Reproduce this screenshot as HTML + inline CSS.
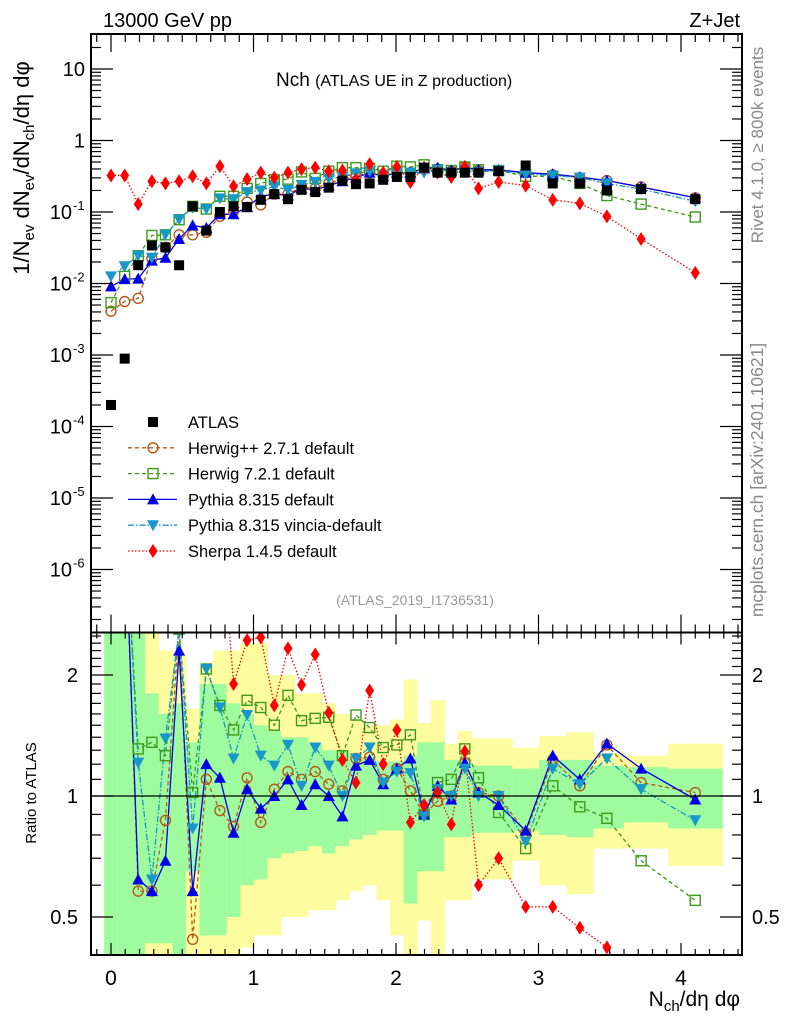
<!DOCTYPE html>
<html><head><meta charset="utf-8">
<style>
html,body{margin:0;padding:0;background:#fff;}
svg{display:block;font-family:"Liberation Sans",Arial,sans-serif;}
</style></head>
<body>
<svg id="chart" width="786" height="1024" viewBox="0 0 786 1024" xmlns="http://www.w3.org/2000/svg">
<defs>
<clipPath id="clipMain"><rect x="91" y="34" width="651" height="598"/></clipPath>
<clipPath id="clipRatio"><rect x="91" y="633" width="651" height="322"/></clipPath>
</defs>
<g id="bands" clip-path="url(#clipRatio)"></g>
<g id="ratioSeries" clip-path="url(#clipRatio)"></g>
<g id="mainSeries" clip-path="url(#clipMain)"></g>
<g id="axes"></g>
<text x="103" y="27" font-size="20">13000 GeV pp</text>
<text x="740" y="27" font-size="20" text-anchor="end">Z+Jet</text>
<text x="276" y="86" font-size="19">Nch <tspan font-size="16">(ATLAS UE in Z production)</tspan></text>
<text x="415" y="605" font-size="14" fill="#999" text-anchor="middle">(ATLAS_2019_I1736531)</text>
<text transform="translate(763,145) rotate(-90)" font-size="17" fill="#888" text-anchor="middle">Rivet 4.1.0, ≥ 800k events</text>
<text transform="translate(763,480) rotate(-90)" font-size="17.5" fill="#888" text-anchor="middle">mcplots.cern.ch [arXiv:2401.10621]</text>
<text transform="translate(29,168) rotate(-90)" font-size="22" text-anchor="middle">1/N<tspan font-size="15" dy="5">ev</tspan><tspan dy="-5"> dN</tspan><tspan font-size="15" dy="5">ev</tspan><tspan dy="-5">/dN</tspan><tspan font-size="15" dy="5">ch</tspan><tspan dy="-5">/dη dφ</tspan></text>
<text transform="translate(36,793) rotate(-90)" font-size="15" text-anchor="middle">Ratio to ATLAS</text>
<text x="740" y="1006" font-size="21" text-anchor="end">N<tspan font-size="15" dy="5">ch</tspan><tspan dy="-5">/dη dφ</tspan></text>
<g id="legend"></g>
</svg>
<script>
// ---- data ----
const xs = [0,0.096,0.191,0.287,0.382,0.478,0.573,0.669,0.764,0.86,0.955,1.051,1.146,1.242,1.337,1.433,1.528,1.624,1.719,1.815,1.91,2.006,2.101,2.197,2.292,2.388,2.483,2.579,2.72,2.91,3.10,3.29,3.48,3.72,4.10];
const atlas = [2.0e-4,8.9e-4,0.018,0.034,0.032,0.018,0.12,0.055,0.10,0.12,0.117,0.148,0.178,0.151,0.204,0.19,0.219,0.275,0.245,0.251,0.282,0.309,0.309,0.417,0.355,0.355,0.355,0.355,0.372,0.447,0.251,0.251,0.2,0.209,0.151];
const herwig27 = [0.0041,0.0056,0.0062,0.0224,0.032,0.048,0.048,0.052,0.087,0.102,0.138,0.126,0.178,0.178,0.224,0.214,0.251,0.282,0.316,0.355,0.316,0.355,0.355,0.398,0.398,0.372,0.427,0.38,0.38,0.355,0.331,0.302,0.275,0.224,0.158];
const herwig72 = [0.0054,0.0126,0.0245,0.047,0.048,0.078,0.12,0.11,0.166,0.166,0.214,0.251,0.282,0.288,0.363,0.295,0.372,0.417,0.417,0.407,0.372,0.437,0.427,0.457,0.389,0.38,0.427,0.389,0.38,0.316,0.316,0.251,0.17,0.129,0.085];
const pythia = [0.0091,0.0115,0.0117,0.0209,0.0229,0.042,0.065,0.060,0.093,0.093,0.117,0.166,0.178,0.17,0.214,0.204,0.234,0.269,0.302,0.355,0.316,0.355,0.355,0.407,0.417,0.38,0.417,0.389,0.389,0.355,0.339,0.309,0.275,0.224,0.158];
const vincia = [0.0126,0.0174,0.0245,0.0229,0.048,0.079,0.115,0.11,0.155,0.151,0.19,0.2,0.229,0.204,0.24,0.263,0.295,0.309,0.347,0.372,0.331,0.355,0.355,0.355,0.389,0.355,0.389,0.363,0.38,0.339,0.324,0.302,0.251,0.209,0.141];
const sherpa = [0.324,0.324,0.129,0.269,0.251,0.269,0.316,0.251,0.437,0.229,0.288,0.355,0.302,0.355,0.398,0.417,0.372,0.38,0.282,0.468,0.355,0.427,0.263,0.417,0.355,0.309,0.427,0.214,0.263,0.234,0.148,0.132,0.087,0.042,0.0141];
const ratioHerwig27 = [5,5,0.58,0.58,0.87,2.6,0.44,1.1,0.92,0.84,1.11,0.86,1.04,1.15,1.1,1.15,1.07,1.03,1.24,1.25,1.1,1.17,1.03,0.9,0.97,1.0,1.21,1.02,1.0,0.81,1.23,1.06,1.34,1.08,1.02];
const ratioHerwig72 = [5,5,1.31,1.36,1.26,2.6,1.02,2.07,1.68,1.46,1.73,1.66,1.5,1.78,1.54,1.56,1.57,1.26,1.59,1.48,1.32,1.34,1.42,0.9,1.08,1.1,1.31,1.11,0.91,0.74,1.06,0.94,0.88,0.69,0.55];
const ratioPythia = [5,5,0.62,0.58,0.69,2.3,0.58,1.2,1.11,0.81,1.04,0.93,1.0,1.1,0.95,1.07,1.0,0.89,1.19,1.23,1.07,1.17,1.24,0.9,1.06,0.98,1.21,1.02,0.95,0.82,1.26,1.1,1.35,1.17,0.98];
const ratioVincia = [5,5,1.21,0.62,1.39,2.6,0.83,2.07,1.66,1.24,1.59,1.26,1.19,1.34,1.06,1.32,1.19,1.0,1.24,1.32,1.08,1.15,1.14,0.89,1.04,1.0,1.17,1.0,1.0,0.77,1.17,1.07,1.24,1.04,0.87];
const ratioSherpa = [5,5,5,5,5,5,5,5,5,1.9,2.44,2.48,1.68,2.33,1.89,2.25,1.61,1.23,1.08,1.83,1.2,1.46,0.86,0.95,1.02,0.85,1.29,0.6,0.70,0.53,0.53,0.47,0.42,0.3,0.3];
const statHi = [3,3,3,1.8,1.6,1.7,1.36,1.9,1.9,1.7,1.6,1.5,1.45,1.4,1.4,1.35,1.3,1.3,1.25,1.25,1.22,1.22,1.26,1.36,1.36,1.23,1.23,1.19,1.19,1.17,1.23,1.23,1.19,1.18,1.17];
const statLo = [0.3,0.3,0.3,0.43,0.43,0.4,0.65,0.45,0.45,0.5,0.6,0.62,0.7,0.72,0.73,0.75,0.72,0.75,0.78,0.8,0.82,0.82,0.54,0.65,0.65,0.79,0.79,0.81,0.81,0.82,0.8,0.79,0.83,0.86,0.83];
const totHi = [3,3,3,3,2.3,2.25,1.65,2.1,2.3,2.3,2.4,2.4,2.0,2.0,1.8,1.8,1.7,1.6,1.55,1.5,1.5,1.55,1.95,1.52,1.73,1.35,1.45,1.39,1.39,1.32,1.41,1.44,1.28,1.26,1.35];
const totLo = [0.3,0.3,0.3,0.3,0.38,0.3,0.35,0.4,0.4,0.4,0.42,0.45,0.45,0.5,0.5,0.52,0.52,0.55,0.58,0.6,0.55,0.45,0.3,0.49,0.3,0.55,0.55,0.62,0.62,0.69,0.6,0.57,0.74,0.74,0.67];
const xTicks = [0,1,2,3,4];
const mainTickExps = [1,0,-1,-2,-3,-4,-5,-6];
const ratioTicks = [0.5,1,2];

// ---- scales ----
const NS = 'http://www.w3.org/2000/svg';
const L = 91, R = 742, TOP = 34, MID = 632.5, BOT = 955;
const xPx = v => 111 + v * 142.5;
const yMain = v => 140.5 - Math.log10(v) * 71.5;
const yRatio = v => 796 - Math.log2(v) * 121;
function mk(tag, attrs, parent) {
  const e = document.createElementNS(NS, tag);
  for (const k in attrs) e.setAttribute(k, attrs[k]);
  parent.appendChild(e);
  return e;
}
const gBands = document.getElementById('bands');
const gRatio = document.getElementById('ratioSeries');
const gMain = document.getElementById('mainSeries');
const gAxes = document.getElementById('axes');
const gLeg = document.getElementById('legend');

const edges = [];
for (let i = 0; i < xs.length; i++) {
  const lo = i === 0 ? xs[0] - (xs[1] - xs[0]) / 2 : (xs[i - 1] + xs[i]) / 2;
  edges.push(lo);
}
edges.push(xs[xs.length - 1] + (xs[xs.length - 1] - edges[edges.length - 1]));

for (let i = 0; i < xs.length; i++) {
  const x0 = xPx(edges[i]), x1 = xPx(edges[i + 1]);
  const ry = mk('rect', {x: x0, y: yRatio(totHi[i]), width: x1 - x0 + 0.5, height: yRatio(totLo[i]) - yRatio(totHi[i]), fill: '#fdfc9e'}, gBands);
  
  
  const rg = mk('rect', {x: x0, y: yRatio(statHi[i]), width: x1 - x0 + 0.5, height: yRatio(statLo[i]) - yRatio(statHi[i]), fill: '#9efb9e'}, gBands);
  
  
}
const unity = mk('line', {x1: L, x2: R, y1: yRatio(1), y2: yRatio(1), stroke: '#000', 'stroke-width': 1.3}, gAxes);



function marker(type, cx, cy, color, parent) {
  let e;
  if (type === 'square') e = mk('rect', {x: cx - 5, y: cy - 5, width: 10, height: 10, fill: '#000'}, parent);
  else if (type === 'circle') e = mk('circle', {cx: cx, cy: cy, r: 5, fill: 'none', stroke: color, 'stroke-width': 1.4}, parent);
  else if (type === 'osquare') e = mk('rect', {x: cx - 5, y: cy - 5, width: 10, height: 10, fill: 'none', stroke: color, 'stroke-width': 1.4}, parent);
  else if (type === 'tri') e = mk('polygon', {points: `${cx},${cy - 6} ${cx - 6},${cy + 5} ${cx + 6},${cy + 5}`, fill: color}, parent);
  else if (type === 'itri') e = mk('polygon', {points: `${cx},${cy + 6} ${cx - 6},${cy - 5} ${cx + 6},${cy - 5}`, fill: color}, parent);
  else if (type === 'diamond') e = mk('polygon', {points: `${cx},${cy - 7} ${cx - 4.5},${cy} ${cx},${cy + 7} ${cx + 4.5},${cy}`, fill: color}, parent);
  return e;
}
const series = [
  {name: 'herwig-2-7-1', main: herwig27, ratio: ratioHerwig27, color: '#b35a1a', dash: '4,3', m: 'circle', label: 'Herwig++ 2.7.1 default'},
  {name: 'herwig-7-2-1', main: herwig72, ratio: ratioHerwig72, color: '#3f9a1c', dash: '4,3', m: 'osquare', label: 'Herwig 7.2.1 default'},
  {name: 'pythia-8-315', main: pythia, ratio: ratioPythia, color: '#0000e6', dash: '', m: 'tri', label: 'Pythia 8.315 default'},
  {name: 'pythia-vincia', main: vincia, ratio: ratioVincia, color: '#1898c8', dash: '6,2,1.5,2', m: 'itri', label: 'Pythia 8.315 vincia-default'},
  {name: 'sherpa-1-4-5', main: sherpa, ratio: ratioSherpa, color: '#ff0000', dash: '1.5,2', m: 'diamond', label: 'Sherpa 1.4.5 default'}
];
series.forEach(s => {
  const pm = xs.map((x, i) => `${xPx(x).toFixed(1)},${yMain(s.main[i]).toFixed(1)}`).join(' ');
  const lm = mk('polyline', {points: pm, fill: 'none', stroke: s.color, 'stroke-width': 1.3, 'stroke-dasharray': s.dash}, gMain);
  
  
  const pr = xs.map((x, i) => `${xPx(x).toFixed(1)},${yRatio(s.ratio[i]).toFixed(1)}`).join(' ');
  const lr = mk('polyline', {points: pr, fill: 'none', stroke: s.color, 'stroke-width': 1.3, 'stroke-dasharray': s.dash}, gRatio);
  
  
});
series.forEach(s => {
  xs.forEach((x, i) => {
    const a = marker(s.m, xPx(x), yMain(s.main[i]), s.color, gMain);
    
    
    const b = marker(s.m, xPx(x), yRatio(s.ratio[i]), s.color, gRatio);
    
    
  });
});
xs.forEach((x, i) => {
  const a = marker('square', xPx(x), yMain(atlas[i]), '#000', gMain);
  
  
});

const fr = mk('rect', {x: L, y: TOP, width: R - L, height: BOT - TOP, fill: 'none', stroke: '#000', 'stroke-width': 2}, gAxes);


const div = mk('line', {x1: L, x2: R, y1: MID, y2: MID, stroke: '#000', 'stroke-width': 2}, gAxes);



function tick(x1, y1, x2, y2) {
  const t = mk('line', {x1, y1, x2, y2, stroke: '#000', 'stroke-width': 1.2}, gAxes);
  
  
}
function label(txt, x, y, anchor, size, name) {
  const t = mk('text', {x, y, 'text-anchor': anchor, 'font-size': size}, gAxes);
  t.textContent = txt;
  
  
  return t;
}
for (let k = -1; k <= 44; k++) {
  const v = k / 10, px = xPx(v);
  if (px < L + 1 || px > R - 1) continue;
  const major = k % 10 === 0;
  const len = major ? 18 : 8;
  tick(px, TOP, px, TOP + len);
  tick(px, MID, px, MID - len);
  tick(px, MID, px, MID + (major ? 12 : 6));
  tick(px, BOT, px, BOT - (major ? 12 : 6));
}
xTicks.forEach(v => label(String(v), xPx(v), 985, 'middle', 21, 'x-tick-label'));
for (let e = -7; e <= 1; e++) {
  for (let m = 1; m <= 9; m++) {
    const v = m * Math.pow(10, e), py = yMain(v);
    if (py < TOP + 1 || py > MID - 1) continue;
    const len = m === 1 ? 22 : 10;
    tick(L, py, L + len, py);
    tick(R, py, R - len, py);
  }
}
mainTickExps.forEach(e => {
  const py = yMain(Math.pow(10, e)) + 7;
  if (e === 1) label('10', 85, py, 'end', 20, 'y-tick-label');
  else if (e === 0) label('1', 85, py, 'end', 20, 'y-tick-label');
  else {
    label('10', 72, py, 'end', 20, 'y-tick-label');
    const s = mk('text', {x: 73, y: py - 9, 'font-size': 13}, gAxes);
    s.textContent = String(e);
    
    
  }
});
for (let k = 4; k <= 25; k++) {
  const v = k / 10, py = yRatio(v);
  if (py < MID + 2 || py > BOT - 1) continue;
  const major = (k === 5 || k === 10 || k === 20);
  const len = major ? 22 : 10;
  tick(L, py, L + len, py);
  tick(R, py, R - len, py);
}
ratioTicks.forEach(v => {
  const py = yRatio(v) + 7;
  label(String(v), 78, py, 'end', 20, 'ratio-tick-label');
  label(String(v), 752, py, 'start', 20, 'ratio-tick-label-right');
});

const legRows = [{label: 'ATLAS', m: 'square', color: '#000', dash: null}].concat(series);
legRows.forEach((s, i) => {
  const y = 422 + i * 25.8;
  const g = mk('g', {}, gLeg);
  
  
  if (s.dash !== null) {
    const ln = mk('line', {x1: 128, x2: 177, y1: y, y2: y, stroke: s.color, 'stroke-width': 1.3, 'stroke-dasharray': s.dash}, g);
    
    
  }
  const mm = marker(s.m, 153, y, s.color, g);
  
  
  const t = mk('text', {x: 188, y: y + 6, 'font-size': 16.5}, g);
  t.textContent = s.label;
  
  
});
</script>
</body></html>
